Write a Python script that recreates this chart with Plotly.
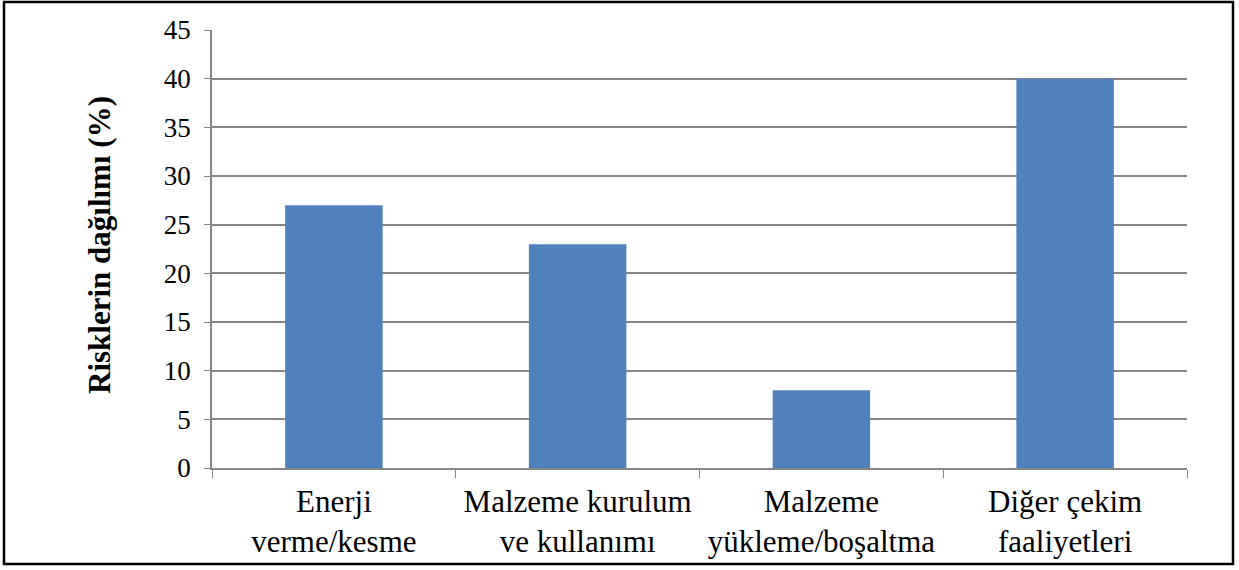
import plotly.graph_objects as go

# data
categories = ["Enerji verme/kesme", "Malzeme kurulum ve kullanımı",
              "Malzeme yükleme/boşaltma", "Diğer çekim faaliyetleri"]
tickLabels = ["Enerji<br>verme/kesme", "Malzeme kurulum<br>ve kullanımı",
              "Malzeme<br>yükleme/boşaltma", "Diğer çekim<br>faaliyetleri"]
riskValues = [27, 23, 8, 40]
yTicks = [0, 5, 10, 15, 20, 25, 30, 35, 40, 45]
yTitle = "Risklerin dağılımı (%)"

W, H = 1239, 570
mL, mR, mT, mB = 212, 52, 30, 102
pw = W - mL - mR
ph = H - mT - mB

fig = go.Figure()
fig.add_trace(go.Bar(x=categories, y=riskValues, marker_color="#4F81BD",
                     marker_line_width=0, width=0.4))

font = "Liberation Serif"
fig.update_layout(
    width=W, height=H,
    margin=dict(l=mL, r=mR, t=mT, b=mB),
    paper_bgcolor="white", plot_bgcolor="white",
    showlegend=False,
    font=dict(family=font, size=28, color="black"),
)
fig.update_xaxes(
    tickvals=categories, ticktext=tickLabels,
    tickson="boundaries", ticks="outside", ticklen=8, tickcolor="#868686",
    showline=True, linecolor="#868686", linewidth=1.5,
    showgrid=False, ticklabelstandoff=5,
    tickfont=dict(family=font, size=31, color="black"),
)
fig.update_yaxes(
    range=[0, 45], tickvals=yTicks,
    ticks="outside", ticklen=6, tickcolor="#868686",
    showline=True, linecolor="#868686", linewidth=1.5,
    showgrid=True, gridcolor="#868686", gridwidth=1.5,
    zeroline=False, ticklabelstandoff=8,
    tickfont=dict(family=font, size=27, color="black"),
)

# y title
fig.add_annotation(text="<b>" + yTitle + "</b>", textangle=-90,
                   xref="paper", yref="paper", xanchor="center", yanchor="middle",
                   x=(99 - mL) / pw, y=(H - mB - 245) / ph,
                   showarrow=False, font=dict(family=font, size=31, color="black"))

# outer frame
fig.add_shape(type="rect", xref="paper", yref="paper",
              x0=(4 - mL) / pw, x1=(1233 - mL) / pw,
              y0=(H - mB - 564) / ph, y1=(H - mB - 2) / ph,
              line=dict(color="black", width=2.5))

fig.write_html("out.html", config={"displayModeBar": False},
               post_script="document.body.style.margin='0';")
